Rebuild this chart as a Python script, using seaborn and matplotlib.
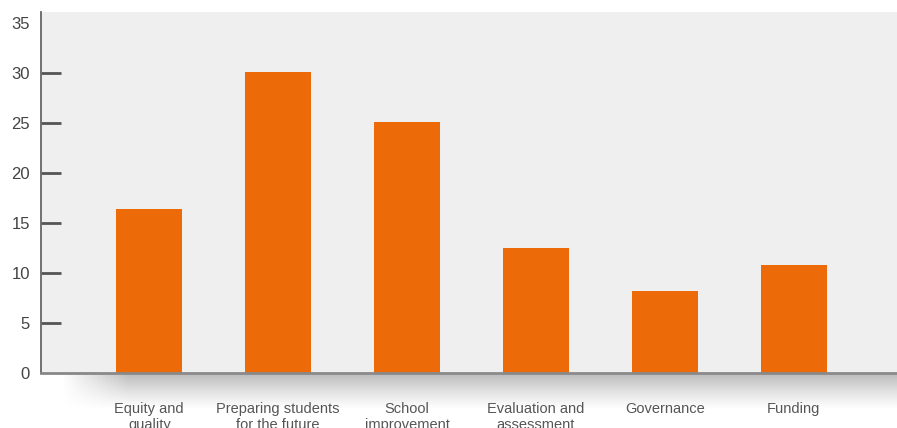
import numpy as np
import pandas as pd
import matplotlib
matplotlib.use("Agg")
import matplotlib.pyplot as plt
import seaborn as sns

# Chart data
categories = ["Equity and\nquality", "Preparing students\nfor the future", "School\nimprovement",
              "Evaluation and\nassessment", "Governance", "Funding"]
values = [16.4, 30.1, 25.1, 12.5, 8.2, 10.8]
y_ticks = [0, 5, 10, 15, 20, 25, 30, 35]

df = pd.DataFrame({"category": categories, "value": values})

sns.set_style("white")
plt.rcParams["font.family"] = ["Liberation Sans", "DejaVu Sans"]

fig = plt.figure(figsize=(8.97, 4.28), dpi=100)
ax = fig.add_axes([41 / 897, 55 / 428, 856 / 897, 361 / 428])

# soft shadow under the x axis
shadow = fig.add_axes([60 / 897, 18 / 428, 837 / 897, 37 / 428])
grad = np.linspace(0.0, 1.0, 64)[:, None]
fade_x = np.clip(np.linspace(0, 1, 200) / 0.08, 0, 1)[None, :]
alpha = (1 - grad) ** 1.2 * fade_x * 0.6
img = np.zeros((64, 200, 4))
img[..., :3] = 0.55
img[..., 3] = alpha
shadow.imshow(img, aspect="auto", extent=[0, 1, 0, 1], origin="upper")
shadow.axis("off")

ax.set_facecolor("#efefef")
sns.barplot(data=df, x="category", y="value", color="#ec6a07", width=0.51,
            saturation=1, linewidth=0, ax=ax)

ax.set_xlim(-0.84, 5.8)
ax.set_ylim(0, 36.1)
ax.set_yticks(y_ticks)
ax.set_xlabel("")
ax.set_ylabel("")

for side in ["top", "right"]:
    ax.spines[side].set_visible(False)
ax.spines["left"].set_color("#666666")
ax.spines["left"].set_linewidth(1.3)
ax.spines["bottom"].set_color("#888888")
ax.spines["bottom"].set_linewidth(2)

ax.tick_params(axis="y", left=True, direction="in", length=14.5, width=2, color="#555555",
               labelsize=12, labelcolor="#444444", pad=8)
ax.tick_params(axis="x", bottom=False, length=0, labelsize=10.5, labelcolor="#555555", pad=21)
for lbl in ax.get_xticklabels():
    lbl.set_linespacing(1.15)
    lbl.set_verticalalignment("top")

# no tick marks at 0 and 35
ticks = ax.yaxis.get_major_ticks()
ticks[0].tick1line.set_visible(False)
ticks[-1].tick1line.set_visible(False)

fig.savefig("out.png", dpi=100)
